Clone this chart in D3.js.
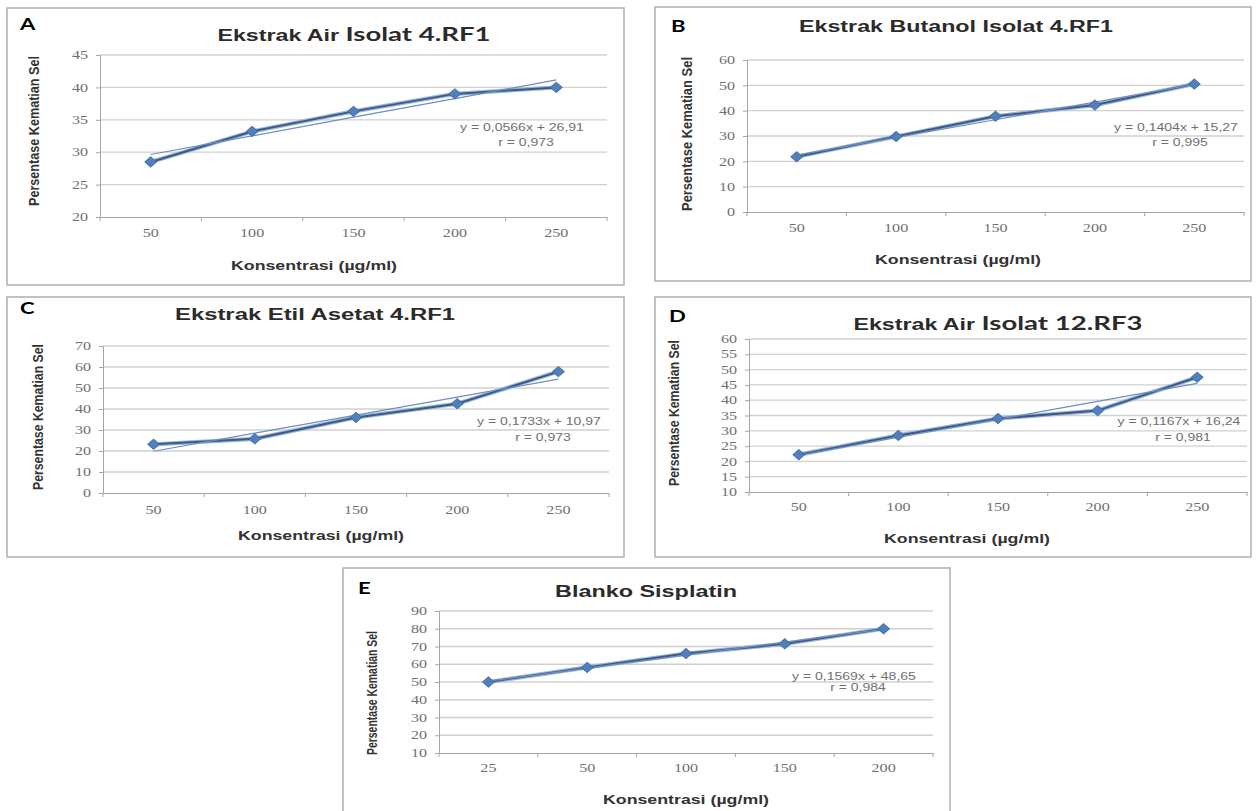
<!DOCTYPE html>
<html>
<head>
<meta charset="utf-8">
<script src="https://cdn.jsdelivr.net/npm/d3@7"></script>
<style>
  body { margin: 0; background: #fff; }
</style>
</head>
<body>
<svg id="fig" width="1256" height="811" font-family='"Liberation Sans", Arial, sans-serif'></svg>
<script>
// ----------------------------------------------
// Data
// ----------------------------------------------
const panelLetters = ['A', 'B', 'C', 'D', 'E'];
const titleMain = ['Ekstrak Air ', 'Ekstrak Butanol Isolat 4.RF1', 'Ekstrak Etil Asetat 4.RF1', 'Ekstrak Air  ', 'Blanko Sisplatin'];
const titleIsolat = ['Isolat 4.RF1', '', '', 'Isolat 12.RF3', ''];
const concentrations = [50, 100, 150, 200, 250];
const concentrationsSisplatin = [25, 50, 100, 150, 200];
const valuesA = [28.5, 33.2, 36.3, 39.0, 40.0];
const valuesB = [21.8, 29.8, 37.8, 42.2, 50.5];
const valuesC = [23.2, 25.8, 36.0, 42.5, 57.8];
const valuesD = [22.2, 28.5, 34.0, 36.6, 47.5];
const valuesE = [50.0, 58.2, 66.0, 71.5, 80.0];
const slopes = ['0,0566', '0,1404', '0,1733', '0,1167', '0,1569'];
const intercepts = ['26,91', '15,27', '10,97', '16,24', '48,65'];
const rValues = ['0,973', '0,995', '0,973', '0,981', '0,984'];
const yDomains = [[20, 45], [0, 60], [0, 70], [10, 60], [10, 90]];
const yTickSteps = [5, 10, 10, 5, 10];
const xTitle = 'Konsentrasi  (µg/ml)';
const yTitle = 'Persentase Kematian Sel';

const panelCats = [concentrations, concentrations, concentrations, concentrations, concentrationsSisplatin];
const panelValues = [valuesA, valuesB, valuesC, valuesD, valuesE];

// ----------------------------------------------
// Layout (pixel boxes of each panel)
// ----------------------------------------------
const layouts = [
  { box: [7, 8, 624, 285], plot: [100, 55, 607, 217], title: [354, 41, 273], letter: [20, 30],
    yT: [34, 131, 150], xLab: 237, xT: [314, 270], eq: [522, 131, 146] },
  { box: [655, 7, 1251, 281], plot: [747, 60, 1244, 212], title: [956, 32, 314], letter: [671, 32],
    yT: [687, 134, 154], xLab: 232, xT: [958, 264], eq: [1176, 131, 146] },
  { box: [7, 297, 624, 557], plot: [103, 346, 609, 493], title: [315, 320, 280], letter: [20, 314],
    yT: [38, 417, 146], xLab: 514, xT: [321, 540], eq: [539, 425, 441] },
  { box: [655, 297, 1251, 557], plot: [749, 339, 1247, 492], title: [998, 330, 289], letter: [669, 322],
    yT: [674, 413, 146], xLab: 511, xT: [967, 543], eq: [1179, 425, 441] },
  { box: [343, 568, 950, 815], plot: [439, 611, 933, 753], title: [646, 597, 182], letter: [358, 594],
    yT: [372, 693, 124], xLab: 772, xT: [686, 804], eq: [854, 680, 691] }
];

const STRETCH = 1.4;   // the source figure is horizontally stretched
const LABEL_FONT = '"Liberation Serif", serif';
const LETTER_FONT = 'Lato, "Open Sans", sans-serif';

function stretch(sel, k) {
  sel.each(function () {
    const w = this.getComputedTextLength();
    d3.select(this).attr('textLength', w * k).attr('lengthAdjust', 'spacingAndGlyphs');
  });
}

// least-squares trend on category index, as the spreadsheet draws it
function trend(vals) {
  const n = vals.length;
  const xs = d3.range(1, n + 1);
  const mx = d3.mean(xs), my = d3.mean(vals);
  const b = d3.sum(xs, (x, i) => (x - mx) * (vals[i] - my)) / d3.sum(xs, x => (x - mx) * (x - mx));
  return xs.map(x => my + b * (x - mx));
}

const svg = d3.select('#fig');

panelLetters.forEach((letter, i) => {
  const L = layouts[i];
  const cats = panelCats[i];
  const vals = panelValues[i];
  const [bx0, by0, bx1, by1] = L.box;
  const [pl, pt, pr, pb] = L.plot;
  const g = svg.append('g');

  g.append('rect')
    .attr('x', bx0).attr('y', by0)
    .attr('width', bx1 - bx0).attr('height', by1 - by0)
    .attr('fill', '#fff').attr('stroke', '#b4b4b4').attr('stroke-width', 1.6);

  const x = d3.scaleBand().domain(cats).range([pl, pr]).padding(0);
  const cx = c => x(c) + x.bandwidth() / 2;
  const y = d3.scaleLinear().domain(yDomains[i]).range([pb, pt]);
  const ticks = d3.range(yDomains[i][0], yDomains[i][1] + 0.001, yTickSteps[i]);

  // gridlines
  g.append('g').selectAll('line').data(ticks.slice(1)).join('line')
    .attr('x1', pl).attr('x2', pr)
    .attr('y1', d => y(d)).attr('y2', d => y(d))
    .attr('stroke', '#d0d0d0').attr('stroke-width', 1.3);

  // y axis
  const yAxis = g.append('g').attr('transform', `translate(${pl},0)`)
    .call(d3.axisLeft(y).tickValues(ticks).tickSize(4).tickPadding(8).tickFormat(d3.format('d')))
    .attr('font-family', LABEL_FONT);
  yAxis.select('.domain').attr('stroke', '#a6a6a6');
  yAxis.selectAll('.tick line').attr('stroke', '#a6a6a6');
  yAxis.selectAll('.tick text')
    .attr('font-size', 11.5).attr('fill', '#707070')
    .call(stretch, STRETCH);

  // x axis
  const xAxis = g.append('g').attr('transform', `translate(0,${pb})`)
    .call(d3.axisBottom(x).tickSize(0).tickPadding(0))
    .attr('font-family', LABEL_FONT);
  xAxis.select('.domain').attr('stroke', '#a6a6a6');
  xAxis.selectAll('.tick text')
    .attr('y', L.xLab - pb).attr('dy', 0)
    .attr('font-size', 11.5).attr('fill', '#707070')
    .call(stretch, STRETCH);
  xAxis.selectAll('.bound').data(cats.map(c => x(c)).concat([pr])).join('line')
    .attr('class', 'bound')
    .attr('x1', d => d).attr('x2', d => d)
    .attr('y1', 0).attr('y2', 4)
    .attr('stroke', '#a6a6a6');

  // trend line and data line
  const tr = trend(vals);
  const line = d3.line().x(d => cx(d[0])).y(d => y(d[1]));
  g.append('path')
    .attr('d', line(cats.map((c, k) => [c, vals[k]])))
    .attr('fill', 'none').attr('stroke', '#9ab6dc').attr('stroke-width', 4.2);
  g.append('path')
    .attr('d', line(cats.map((c, k) => [c, vals[k]])))
    .attr('fill', 'none').attr('stroke', '#3d5a83').attr('stroke-width', 2);
  g.append('path')
    .attr('d', line(cats.map((c, k) => [c, tr[k]])))
    .attr('fill', 'none').attr('stroke', '#6d8fc0').attr('stroke-width', 1.2);

  g.append('g').selectAll('path').data(cats.map((c, k) => [c, vals[k]])).join('path')
    .attr('d', d3.symbol(d3.symbolDiamond2, 70))
    .attr('transform', d => `translate(${cx(d[0])},${y(d[1])}) scale(1.15,1)`)
    .attr('fill', '#4f7fbd').attr('stroke', '#3b6599').attr('stroke-width', 0.8);

  // regression label
  g.append('text')
    .attr('x', L.eq[0]).attr('y', L.eq[1])
    .attr('text-anchor', 'middle').attr('font-size', 10).attr('fill', '#707070')
    .text(`y = ${slopes[i]}x + ${intercepts[i]}`)
    .call(stretch, STRETCH);
  g.append('text')
    .attr('x', L.eq[0] + 4).attr('y', L.eq[2])
    .attr('text-anchor', 'middle').attr('font-size', 10).attr('fill', '#707070')
    .text(`r = ${rValues[i]}`)
    .call(stretch, STRETCH);

  // title
  const t = g.append('text')
    .attr('x', L.title[0]).attr('y', L.title[1])
    .attr('text-anchor', 'middle').attr('font-weight', 'bold').attr('fill', '#2b2b2b');
  t.append('tspan').attr('font-size', 16).text(titleMain[i]);
  if (titleIsolat[i]) {
    t.append('tspan').attr('font-size', 19).attr('font-family', LETTER_FONT)
      .text(titleIsolat[i]);
  }
  t.attr('textLength', L.title[2]).attr('lengthAdjust', 'spacingAndGlyphs');

  // panel letter
  g.append('text')
    .attr('x', L.letter[0]).attr('y', L.letter[1])
    .attr('font-size', 17).attr('font-weight', 'bold')
    .attr('font-family', LETTER_FONT).attr('fill', '#000')
    .text(letter)
    .call(stretch, 1.3);

  // axis titles
  g.append('text')
    .attr('x', L.xT[0]).attr('y', L.xT[1])
    .attr('text-anchor', 'middle').attr('font-size', 12).attr('font-weight', 'bold').attr('fill', '#333')
    .text(xTitle)
    .attr('textLength', 166).attr('lengthAdjust', 'spacingAndGlyphs');

  g.append('text')
    .attr('transform', `translate(${L.yT[0] + 5},${L.yT[1]}) rotate(-90)`)
    .attr('text-anchor', 'middle').attr('font-size', 15).attr('font-weight', 'bold').attr('fill', '#333')
    .text(yTitle)
    .attr('textLength', L.yT[2]).attr('lengthAdjust', 'spacingAndGlyphs');
});
</script>
</body>
</html>
